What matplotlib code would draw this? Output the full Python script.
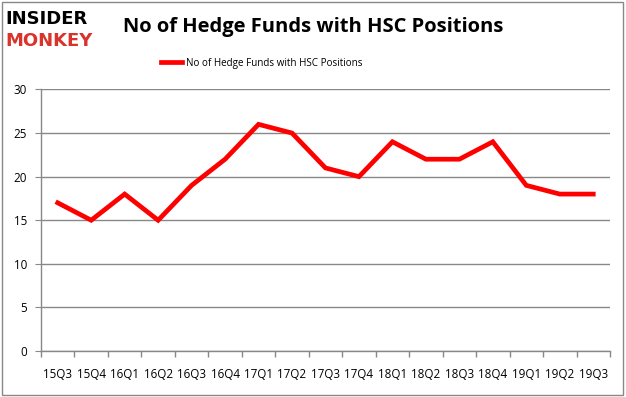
import matplotlib
matplotlib.use("Agg")
from matplotlib import pyplot as plt
from matplotlib.patches import Rectangle
from matplotlib.ticker import FixedLocator, MultipleLocator

quarters = ["15Q3", "15Q4", "16Q1", "16Q2", "16Q3", "16Q4", "17Q1", "17Q2", "17Q3",
            "17Q4", "18Q1", "18Q2", "18Q3", "18Q4", "19Q1", "19Q2", "19Q3"]
hedge_funds = [17, 15, 18, 15, 19, 22, 26, 25, 21, 20, 24, 22, 22, 24, 19, 18, 18]
series_label = "No of Hedge Funds with HSC Positions"
title = "No of Hedge Funds with HSC Positions"

plt.rcParams["font.family"] = ["Open Sans", "DejaVu Sans"]

fig = plt.figure(figsize=(6.26, 3.97), dpi=100)
ax = fig.add_axes([0.0655, 0.1159, 0.9089, 0.6587])

x = list(range(len(quarters)))
line, = ax.plot(x, hedge_funds, color="#ff0000", linewidth=3.4, solid_joinstyle="miter",
                label=series_label, zorder=3)

ax.set_xlim(-0.5, len(quarters) - 0.5)
ax.set_ylim(0, 30)
ax.yaxis.set_major_locator(MultipleLocator(5))
ax.set_xticks(x)
ax.set_xticklabels(quarters)
ax.xaxis.set_minor_locator(FixedLocator([i - 0.5 for i in range(len(quarters) + 1)]))
ax.tick_params(axis="x", which="major", length=0, pad=12, labelsize=8.4, colors="black")
ax.tick_params(axis="x", which="minor", length=4, color="#888888", width=1)
ax.tick_params(axis="y", length=4, color="#888888", labelsize=8.4, pad=6)

ax.grid(axis="y", color="#888888", linewidth=1)
ax.set_axisbelow(True)
for side in ["top", "right"]:
    ax.spines[side].set_visible(False)
for side in ["left", "bottom"]:
    ax.spines[side].set_color("#888888")
    ax.spines[side].set_linewidth(1)

fig.text(0.5, 0.932, title, ha="center", va="center", fontsize=14.5, fontweight="bold")
fig.legend(handles=[line], loc="center", bbox_to_anchor=(0.418, 0.841),
           bbox_transform=fig.transFigure, frameon=False, fontsize=7.1,
           handlelength=2.2, handletextpad=0.4)

# logo
fig.text(0.008, 0.952, "INSIDER", ha="left", va="center", fontsize=13,
         fontweight="heavy", color="black", family="DejaVu Sans")
fig.text(0.008, 0.897, "MONKEY", ha="left", va="center", fontsize=13,
         fontweight="heavy", color="#d9342b", family="DejaVu Sans")

# outer frame
fig.patches.append(Rectangle((0.003, 0.004), 0.992, 0.992, transform=fig.transFigure,
                             fill=False, edgecolor="#888888", linewidth=1))

fig.savefig("out.png", dpi=100)
